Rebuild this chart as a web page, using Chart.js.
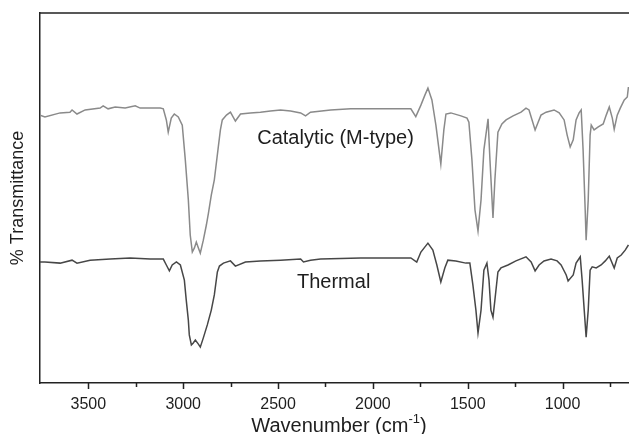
<!DOCTYPE html>
<html lang="en">
  <head>
    <meta charset="UTF-8" />
    <title>FTIR | Catalytic x Thermal</title>
    <script src="https://cdn.jsdelivr.net/npm/chart.js"></script>
    <style>
      html, body { margin: 0; padding: 0; background: #fff; }
    </style>
  </head>
  <body>
    <canvas id="graficoIR" width="629" height="434"></canvas>

    <script>
      const catalyticWn = [3755, 3729, 3649, 3597, 3586, 3560, 3517, 3438, 3422, 3396, 3359, 3306, 3253, 3227, 3174, 3121, 3105, 3089, 3079, 3063, 3047, 3026, 3005, 2989, 2973, 2963, 2952, 2941, 2931, 2920, 2910, 2894, 2878, 2867, 2852, 2836, 2815, 2804, 2794, 2772, 2751, 2725, 2698, 2646, 2593, 2540, 2487, 2434, 2381, 2355, 2329, 2223, 2117, 2012, 1906, 1800, 1774, 1747, 1726, 1710, 1689, 1668, 1642, 1626, 1615, 1589, 1536, 1504, 1494, 1478, 1462, 1446, 1430, 1415, 1393, 1383, 1367, 1357, 1341, 1320, 1298, 1261, 1219, 1193, 1177, 1161, 1145, 1129, 1114, 1087, 1045, 1018, 992, 976, 960, 944, 929, 913, 902, 892, 881, 876, 865, 855, 849, 834, 812, 786, 770, 754, 738, 728, 712, 696, 675, 659, 653]
      const catalyticT = [72.4, 71.9, 73.0, 73.2, 73.8, 72.7, 73.8, 74.3, 74.9, 74.1, 74.6, 74.3, 74.9, 74.3, 74.3, 74.3, 74.1, 71.1, 67.8, 71.6, 72.7, 71.9, 69.7, 60.3, 49.5, 40.0, 35.4, 36.5, 38.1, 36.5, 35.1, 38.6, 42.7, 45.9, 50.8, 54.9, 63.8, 68.4, 71.1, 72.4, 73.2, 70.8, 72.7, 73.0, 73.2, 73.5, 73.8, 73.5, 73.0, 72.2, 73.2, 73.8, 74.1, 74.1, 74.1, 74.1, 72.0, 75.1, 77.8, 79.7, 76.5, 69.7, 59.2, 68.4, 72.7, 73.0, 72.2, 71.6, 70.5, 60.3, 46.8, 41.1, 49.5, 63.0, 71.4, 60.3, 44.6, 54.9, 67.8, 70.0, 71.1, 72.2, 73.2, 74.3, 73.8, 71.1, 68.4, 70.5, 72.4, 73.2, 73.8, 73.0, 71.1, 67.0, 63.8, 65.7, 71.1, 73.0, 73.8, 63.0, 46.8, 38.6, 49.5, 67.0, 69.7, 68.4, 69.2, 70.0, 72.4, 74.6, 71.6, 68.6, 72.4, 74.3, 76.5, 77.3, 80.0]

      const thermalWn = [3755, 3729, 3649, 3586, 3560, 3491, 3385, 3280, 3174, 3105, 3089, 3073, 3058, 3036, 3015, 2994, 2984, 2973, 2968, 2957, 2947, 2936, 2920, 2910, 2894, 2873, 2852, 2836, 2820, 2809, 2788, 2751, 2725, 2672, 2593, 2487, 2381, 2366, 2329, 2276, 2064, 1800, 1769, 1747, 1710, 1684, 1663, 1642, 1621, 1605, 1563, 1510, 1489, 1473, 1457, 1446, 1430, 1415, 1399, 1388, 1378, 1367, 1357, 1341, 1325, 1288, 1246, 1193, 1166, 1145, 1124, 1098, 1061, 1029, 1008, 981, 971, 944, 929, 907, 897, 886, 876, 865, 855, 844, 823, 797, 775, 754, 728, 712, 691, 670, 653]
      const thermalT = [32.7, 32.7, 32.4, 33.2, 32.4, 33.2, 33.5, 33.8, 33.5, 33.5, 31.9, 30.3, 31.9, 32.7, 31.9, 27.8, 22.4, 17.0, 13.0, 10.3, 10.8, 11.6, 10.5, 9.7, 12.2, 15.7, 19.7, 23.8, 30.0, 31.6, 32.4, 33.0, 31.6, 32.7, 33.0, 33.2, 33.5, 32.7, 33.2, 33.5, 33.8, 33.8, 32.7, 35.4, 37.8, 35.9, 31.9, 27.3, 31.1, 33.2, 33.0, 32.4, 32.4, 26.5, 19.7, 13.5, 19.7, 30.5, 32.4, 27.8, 19.7, 17.8, 22.4, 30.0, 31.1, 31.9, 33.0, 34.1, 32.7, 30.3, 31.9, 33.0, 33.5, 33.0, 31.9, 29.2, 27.6, 29.2, 32.4, 34.1, 27.8, 19.7, 12.4, 19.7, 30.5, 31.4, 31.1, 31.9, 33.0, 34.3, 31.1, 33.8, 34.6, 35.9, 37.3]

      const nomesSeries = ["Catalytic (M-type)", "Thermal"]
      const ticksMaiores = [3500, 3000, 2500, 2000, 1500, 1000]
      const ticksMenores = [3250, 2750, 2250, 1750, 1250, 750]

      const fonte = '"Liberation Sans", Arial, sans-serif'
      const corTexto = "#1e1e1e"

      function montarPontos(wn, t) {
        let pontos = []
        for (let i = 0; i < wn.length; i++) {
          pontos.push({ x: wn[i], y: t[i] })
        }
        return pontos
      }

      // plugin que desenha moldura de cima, marcas do eixo, rotulos e titulos
      const decoracao = {
        id: "decoracao",
        afterDraw(chart) {
          const ctx = chart.ctx
          const area = chart.chartArea
          const sx = chart.scales.x
          const sy = chart.scales.y

          ctx.save()
          ctx.strokeStyle = "#222"
          ctx.lineWidth = 1.5
          ctx.beginPath()
          ctx.moveTo(area.left, area.top)
          ctx.lineTo(area.right, area.top)
          for (let i = 0; i < ticksMaiores.length; i++) {
            const px = Math.round(sx.getPixelForValue(ticksMaiores[i])) + 0.5
            ctx.moveTo(px, area.bottom)
            ctx.lineTo(px, area.bottom + 6)
          }
          for (let i = 0; i < ticksMenores.length; i++) {
            const px = Math.round(sx.getPixelForValue(ticksMenores[i])) + 0.5
            ctx.moveTo(px, area.bottom)
            ctx.lineTo(px, area.bottom + 4)
          }
          ctx.stroke()

          // nomes das curvas
          ctx.fillStyle = corTexto
          ctx.font = "20px " + fonte
          ctx.textAlign = "center"
          ctx.textBaseline = "alphabetic"
          ctx.fillText(nomesSeries[0], sx.getPixelForValue(2197), sy.getPixelForValue(64.6))
          ctx.fillText(nomesSeries[1], sx.getPixelForValue(2207), sy.getPixelForValue(25.7))

          // titulo do eixo x com expoente
          const t1 = "Wavenumber (cm"
          const t2 = "-1"
          const t3 = ")"
          ctx.font = "20px " + fonte
          const w1 = ctx.measureText(t1).width
          const w3 = ctx.measureText(t3).width
          ctx.font = "13px " + fonte
          const w2 = ctx.measureText(t2).width
          const total = w1 + w2 + w3
          let xi = 339 - total / 2
          const base = 432
          ctx.textAlign = "left"
          ctx.font = "20px " + fonte
          ctx.fillText(t1, xi, base)
          ctx.font = "13px " + fonte
          ctx.fillText(t2, xi + w1, base - 9)
          ctx.font = "20px " + fonte
          ctx.fillText(t3, xi + w1 + w2, base)

          // titulo do eixo y
          ctx.translate(18, (area.top + area.bottom) / 2)
          ctx.rotate(-Math.PI / 2)
          ctx.textAlign = "center"
          ctx.textBaseline = "middle"
          ctx.font = "18px " + fonte
          ctx.fillText("% Transmittance", 0, 0)
          ctx.restore()
        },
      }

      const ctx = document.getElementById("graficoIR").getContext("2d")

      new Chart(ctx, {
        type: "line",
        data: {
          datasets: [
            {
              label: nomesSeries[0],
              data: montarPontos(catalyticWn, catalyticT),
              borderColor: "#8a8a8a",
              borderWidth: 1.5,
              pointRadius: 0,
              fill: false,
              tension: 0,
            },
            {
              label: nomesSeries[1],
              data: montarPontos(thermalWn, thermalT),
              borderColor: "#474747",
              borderWidth: 1.5,
              pointRadius: 0,
              fill: false,
              tension: 0,
            },
          ],
        },
        options: {
          responsive: false,
          animation: false,
          layout: { padding: { top: 13, right: 0, left: 0, bottom: 0 } },
          scales: {
            x: {
              type: "linear",
              reverse: true,
              min: 650,
              max: 3755,
              afterBuildTicks: function (s) {
                s.ticks = ticksMaiores.map(function (v) { return { value: v } })
              },
              afterFit: function (s) { s.height = 51 },
              grid: { display: false },
              border: { display: true, color: "#222", width: 1.5 },
              ticks: {
                autoSkip: false,
                maxRotation: 0,
                padding: 4,
                color: corTexto,
                font: { family: fonte, size: 16 },
                callback: function (v) { return String(v) },
              },
            },
            y: {
              min: 0,
              max: 100,
              afterFit: function (s) { s.width = 40 },
              grid: { display: false },
              border: { display: true, color: "#222", width: 1.5 },
              ticks: { display: false },
            },
          },
          plugins: {
            legend: { display: false },
            tooltip: { enabled: false },
          },
        },
        plugins: [decoracao],
      })
    </script>
  </body>
</html>
